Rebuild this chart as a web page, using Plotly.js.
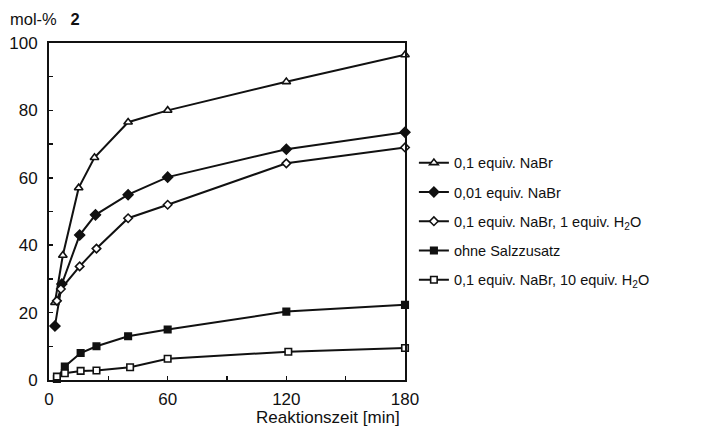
<!DOCTYPE html>
<html>
<head>
<meta charset="utf-8">
<script src="https://cdn.plot.ly/plotly-3.0.1.min.js"></script>
<style>html,body{margin:0;padding:0;background:#fff;}#chart{width:708px;height:426px;}</style>
</head>
<body>
<div id="chart"></div>
<script>
// Series names (legend)
var seriesNames = [
  "0,1 equiv. NaBr",
  "0,01 equiv. NaBr",
  "0,1 equiv. NaBr, 1 equiv. H<sub>2</sub>O",
  "ohne Salzzusatz",
  "0,1 equiv. NaBr, 10 equiv. H<sub>2</sub>O"
];
// Reaction time [min] per series
var tNaBr01     = [3, 7, 15, 23, 40, 60, 120, 180];
var tNaBr001    = [3, 6.5, 15.5, 23.5, 40, 60, 120, 180];
var tNaBrH2O1   = [4, 6, 15.5, 24, 40, 60, 120, 180];
var tOhne       = [4, 8, 16, 24, 40, 60, 120, 180];
var tNaBrH2O10  = [4, 8, 16, 24, 41, 60, 121, 180];
// mol-% 2
var yNaBr01     = [23, 37, 57, 66, 76.5, 80, 88.5, 96.5];
var yNaBr001    = [16, 28.5, 43, 49, 55, 60.2, 68.5, 73.5];
var yNaBrH2O1   = [23.5, 27, 33.7, 39, 48, 52, 64.3, 69];
var yOhne       = [0.3, 4, 8, 10, 13, 15, 20.3, 22.3];
var yNaBrH2O10  = [1, 2, 2.7, 2.8, 3.8, 6.3, 8.4, 9.5];
// tick labels
var xTicks = [0, 60, 120, 180];
var yTicks = [0, 20, 40, 60, 80, 100];

function tr(x, y, name, sym, fill, size) {
  return {
    x: x, y: y, name: name, type: 'scatter', mode: 'lines+markers',
    legendgroup: name,
    line: {color: '#111', width: 2},
    marker: {symbol: sym, size: size, color: fill, line: {color: '#111', width: 1.6}},
    cliponaxis: false
  };
}
var data = [
  tr(tNaBr01, yNaBr01, seriesNames[0], 'triangle-up', '#fff', 7.5),
  tr(tNaBr001, yNaBr001, seriesNames[1], 'diamond', '#111', 7.5),
  tr(tNaBrH2O1, yNaBrH2O1, seriesNames[2], 'diamond', '#fff', 6.5),
  tr(tOhne, yOhne, seriesNames[3], 'square', '#111', 6.5),
  tr(tNaBrH2O10, yNaBrH2O10, seriesNames[4], 'square', '#fff', 6.5)
];

var layout = {
  width: 708, height: 426,
  margin: {l: 49, r: 303, t: 43, b: 46, pad: 0},
  paper_bgcolor: '#fff', plot_bgcolor: '#fff',
  font: {family: 'Liberation Sans, Arial, sans-serif', color: '#111', size: 17},
  showlegend: true,
  legend: {
    x: 1.025, xanchor: 'left', y: 0.692, yanchor: 'top',
    font: {size: 14.5, color: '#111'},
    traceorder: 'grouped', tracegroupgap: 7.4,
    itemwidth: 30, bgcolor: 'rgba(0,0,0,0)'
  },
  xaxis: {
    range: [0, 180], tickvals: xTicks, ticktext: xTicks.map(String),
    ticks: 'inside', ticklen: 4, tickwidth: 1.5, tickcolor: '#111',
    minor: {dtick: 30, tick0: 0, ticks: 'inside', ticklen: 4, tickwidth: 1.5, tickcolor: '#111'},
    showline: true, linecolor: '#111', linewidth: 2, mirror: true,
    showgrid: false, zeroline: false, ticklabelstandoff: 3,
    tickfont: {size: 17}
  },
  yaxis: {
    range: [0, 100], tickvals: yTicks, ticktext: yTicks.map(String),
    ticks: 'inside', ticklen: 4, tickwidth: 1.5, tickcolor: '#111',
    minor: {dtick: 10, tick0: 0, ticks: 'inside', ticklen: 4, tickwidth: 1.5, tickcolor: '#111'},
    showline: true, linecolor: '#111', linewidth: 2, mirror: true,
    showgrid: false, zeroline: false, ticklabelstandoff: 6,
    tickfont: {size: 17}
  },
  annotations: [
    {text: 'mol-%&nbsp;&nbsp;&nbsp;<b>2</b>', xref: 'paper', yref: 'paper', x: -0.115, y: 1.07,
     xanchor: 'left', yanchor: 'middle', showarrow: false, font: {size: 16.5}},
    {text: 'Reaktionszeit [min]', xref: 'paper', yref: 'paper', x: 0.784, y: -0.111,
     xanchor: 'center', yanchor: 'middle', showarrow: false, font: {size: 17}}
  ]
};
Plotly.newPlot('chart', data, layout, {displayModeBar: false, staticPlot: true});
</script>
</body>
</html>
